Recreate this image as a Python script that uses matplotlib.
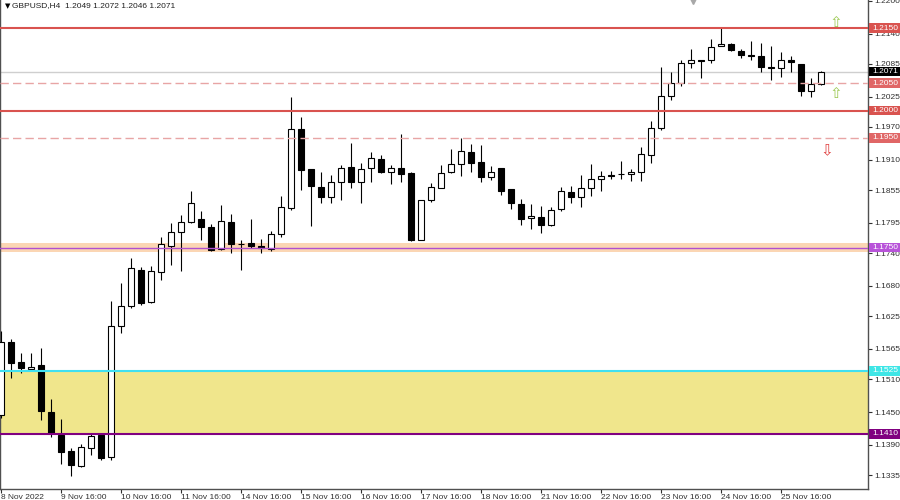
import matplotlib.pyplot as plt
import matplotlib.transforms as mtransforms
from matplotlib.patches import Rectangle
import numpy as np

# GBPUSD H4 candles (first bar 8 Nov 2022 16:00)
opens = [1.1445, 1.1577, 1.1541, 1.1529, 1.1535, 1.1450, 1.1409, 1.1379, 1.1352, 1.1385,
         1.1408, 1.1368, 1.1607, 1.1644, 1.1710, 1.1650, 1.1705, 1.1753, 1.1778, 1.1796,
         1.1803, 1.1788, 1.1747, 1.1797, 1.1757, 1.1758, 1.1752, 1.1747, 1.1775, 1.1822,
         1.1966, 1.1893, 1.1861, 1.1842, 1.1870, 1.1897, 1.1870, 1.1895, 1.1912, 1.1887,
         1.1896, 1.1886, 1.1764, 1.1836, 1.1858, 1.1887, 1.1903, 1.1925, 1.1906, 1.1878,
         1.1896, 1.1856, 1.1830, 1.1804, 1.1806, 1.1791, 1.1820, 1.1851, 1.1842, 1.1858,
         1.1876, 1.1882, 1.1884, 1.1884, 1.1887, 1.1919, 1.1969, 1.2027, 1.2051, 1.2086,
         1.2092, 1.2092, 1.2118, 1.2121, 1.2109, 1.2101, 1.2100, 1.2080, 1.2077, 1.2093,
         1.2085, 1.2036, 1.2049]
highs = [1.1598, 1.1584, 1.1557, 1.1558, 1.1566, 1.1474, 1.1438, 1.1385, 1.1392, 1.1412,
         1.1411, 1.1653, 1.1685, 1.1731, 1.1714, 1.1716, 1.1769, 1.1794, 1.1810, 1.1853,
         1.1816, 1.1793, 1.1828, 1.1811, 1.1764, 1.1802, 1.1765, 1.1781, 1.1844, 1.2025,
         1.1988, 1.1894, 1.1887, 1.1882, 1.1901, 1.1941, 1.1905, 1.1924, 1.1919, 1.1901,
         1.1957, 1.1887, 1.1837, 1.1867, 1.1901, 1.1929, 1.1949, 1.1939, 1.1937, 1.1898,
         1.1896, 1.1857, 1.1838, 1.1830, 1.1826, 1.1824, 1.1861, 1.1862, 1.1882, 1.1903,
         1.1890, 1.1890, 1.1908, 1.1893, 1.1934, 1.1980, 1.2079, 1.2071, 1.2092, 1.2112,
         1.2093, 1.2130, 1.2150, 1.2123, 1.2112, 1.2126, 1.2123, 1.2118, 1.2107, 1.2100,
         1.2085, 1.2059, 1.2072]
lows = [1.1440, 1.1512, 1.1522, 1.1528, 1.1436, 1.1405, 1.1355, 1.1333, 1.1350, 1.1372,
        1.1363, 1.1363, 1.1594, 1.1640, 1.1645, 1.1649, 1.1691, 1.1718, 1.1708, 1.1795,
        1.1764, 1.1744, 1.1746, 1.1740, 1.1709, 1.1749, 1.1740, 1.1744, 1.1769, 1.1819,
        1.1855, 1.1789, 1.1831, 1.1831, 1.1836, 1.1858, 1.1831, 1.1870, 1.1886, 1.1866,
        1.1870, 1.1762, 1.1763, 1.1834, 1.1858, 1.1886, 1.1881, 1.1888, 1.1870, 1.1873,
        1.1846, 1.1820, 1.1791, 1.1783, 1.1777, 1.1790, 1.1817, 1.1832, 1.1824, 1.1844,
        1.1853, 1.1875, 1.1875, 1.1872, 1.1872, 1.1904, 1.1965, 1.2019, 1.2045, 1.2077,
        1.2059, 1.2086, 1.2117, 1.2109, 1.2095, 1.2093, 1.2071, 1.2056, 1.2061, 1.2071,
        1.2027, 1.2025, 1.2046]
closes = [1.1578, 1.1540, 1.1530, 1.1533, 1.1451, 1.1411, 1.1378, 1.1353, 1.1386, 1.1406,
          1.1366, 1.1607, 1.1644, 1.1712, 1.1648, 1.1708, 1.1756, 1.1779, 1.1796, 1.1831,
          1.1787, 1.1746, 1.1799, 1.1757, 1.1756, 1.1753, 1.1749, 1.1775, 1.1824, 1.1966,
          1.1892, 1.1862, 1.1842, 1.1869, 1.1895, 1.1870, 1.1893, 1.1913, 1.1887, 1.1896,
          1.1884, 1.1764, 1.1837, 1.1860, 1.1886, 1.1903, 1.1926, 1.1905, 1.1878, 1.1887,
          1.1854, 1.1831, 1.1803, 1.1808, 1.1792, 1.1819, 1.1853, 1.1843, 1.1859, 1.1875,
          1.1881, 1.1881, 1.1884, 1.1887, 1.1920, 1.1969, 1.2027, 1.2051, 1.2086, 1.2092,
          1.2091, 1.2116, 1.2121, 1.2110, 1.2101, 1.2100, 1.2079, 1.2077, 1.2092, 1.2089,
          1.2036, 1.2048, 1.2071]

date_labels = ["8 Nov 2022", "9 Nov 16:00", "10 Nov 16:00", "11 Nov 16:00", "14 Nov 16:00",
               "15 Nov 16:00", "16 Nov 16:00", "17 Nov 16:00", "18 Nov 16:00", "21 Nov 16:00",
               "22 Nov 16:00", "23 Nov 16:00", "24 Nov 16:00", "25 Nov 16:00"]
price_ticks = [1.2200, 1.2140, 1.2085, 1.2025, 1.1970, 1.1910, 1.1855, 1.1795, 1.1740,
               1.1680, 1.1625, 1.1565, 1.1510, 1.1450, 1.1390, 1.1335]

# marked levels and their label colours
level_prices = [1.2150, 1.2071, 1.2050, 1.2000, 1.1950, 1.1750, 1.1525, 1.1410]
level_colors = ['#d9534f', '#000000', '#e06666', '#d9534f', '#e06666', '#b853d9', '#3ee6e6', '#800080']

FONT = ['Liberation Sans', 'DejaVu Sans']
plt.rcParams['font.family'] = FONT

fig = plt.figure(figsize=(9, 5), dpi=100)
ax = fig.add_axes([0, 11.5 / 500, 868 / 900, 488.5 / 500])
ax.set_xlim(-0.07, 86.73)
ax.set_ylim(1.131053, 1.220162)

# zones
ax.axhspan(1.1410, 1.1525, color='#f0e68c', lw=0, zorder=1)
ax.axhspan(1.1742, 1.1758, color='#fbd6b4', lw=0, zorder=1)
ax.axhline(1.2071, color='#cfcfcf', lw=1, zorder=1.5)

# candles
x = np.arange(len(opens))
o = np.array(opens)
c = np.array(closes)
ax.vlines(x, lows, highs, color='black', lw=0.8, zorder=3)
bottom = np.minimum(o, c)
height = np.maximum(np.abs(c - o), 0.00004)
face = np.where(c >= o, 'white', 'black')
ax.bar(x, height, bottom=bottom, width=0.6, color=face, edgecolor='black', linewidth=0.8, zorder=4)

# level lines
ax.axhline(1.2150, color='#d9534f', lw=1.5, zorder=5)
ax.axhline(1.2000, color='#d9534f', lw=1.5, zorder=5)
ax.axhline(1.2050, color='#e8a5a5', lw=1, dashes=(6, 3), zorder=5)
ax.axhline(1.1950, color='#e8a5a5', lw=1, dashes=(6, 3), zorder=5)
ax.axhline(1.1750, color='#b050d0', lw=1, zorder=5)
ax.axhline(1.1525, color='#40e0f0', lw=1.5, zorder=5)
ax.axhline(1.1410, color='#800080', lw=1.5, zorder=5)

# arrows
ax.text(83.5, 1.2161, '⇧', color='#9bc850', fontsize=11, family='DejaVu Sans', ha='center', va='center', zorder=6)
ax.text(83.5, 1.2031, '⇧', color='#9bc850', fontsize=11, family='DejaVu Sans', ha='center', va='center', zorder=6)
ax.text(82.6, 1.1927, '⇩', color='#e04040', fontsize=11, family='DejaVu Sans', ha='center', va='center', zorder=6)
ax.plot([69.2], [1.2201], marker='v', color='#a8a8a8', markersize=6, clip_on=False, zorder=6)

# axes styling
for side in ['left', 'right', 'bottom']:
    ax.spines[side].set_color('#505050')
    ax.spines[side].set_linewidth(1)
ax.spines['top'].set_visible(False)

ax.yaxis.tick_right()
ax.set_yticks(price_ticks)
ax.set_yticklabels([f'{p:.4f}' for p in price_ticks])
ax.tick_params(axis='y', length=3, width=0.8, pad=1.5, labelsize=6, colors='#303030')

ax.set_xticks(np.arange(len(date_labels)) * 6)
ax.set_xticklabels(date_labels)
ax.tick_params(axis='x', length=3, width=0.8, pad=1, labelsize=6, colors='#303030')
for lbl in ax.get_xticklabels():
    lbl.set_ha('left')

# price labels on the scale
trans = mtransforms.blended_transform_factory(fig.transFigure, ax.transData)
half = 4.8 / 5482
for p, col in zip(level_prices, level_colors):
    ax.add_patch(Rectangle((869 / 900, p - half), 31 / 900, 2 * half, transform=trans,
                           facecolor=col, edgecolor='none', clip_on=False, zorder=10))
    ax.text(872 / 900, p, f'{p:.4f}', transform=trans, color='white', fontsize=6,
            ha='left', va='center', clip_on=False, zorder=11)

# header
fig.text(5 / 900, 1 - 6 / 500, '▼', fontsize=5, family='DejaVu Sans', va='center', ha='left')
fig.text(12 / 900, 1 - 6 / 500, 'GBPUSD,H4  1.2049 1.2072 1.2046 1.2071', fontsize=6,
         va='center', ha='left', color='#202020')

fig.savefig('out.png', dpi=100)
